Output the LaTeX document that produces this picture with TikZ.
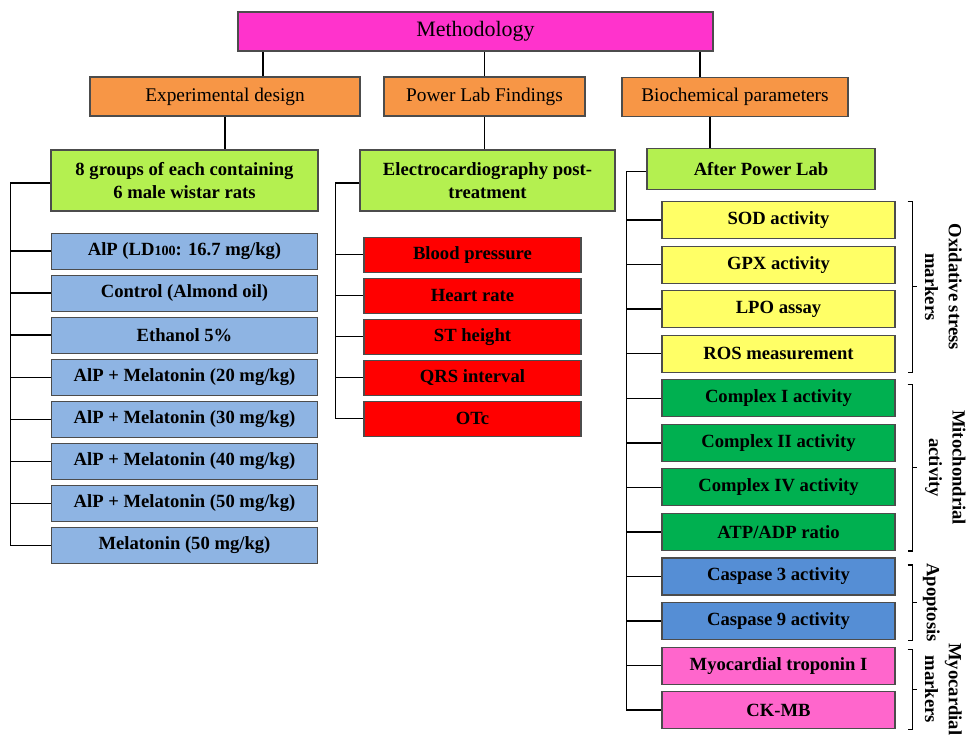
\documentclass[tikz,border=0pt]{standalone}
\usepackage{fontspec}
\setmainfont{Liberation Serif}
\usepackage{tikz}
\usetikzlibrary{positioning,calc}
\definecolor{methpink}{RGB}{255,51,204}
\definecolor{headorange}{RGB}{247,150,70}
\definecolor{limegreen}{RGB}{180,240,80}
\definecolor{groupblue}{RGB}{142,180,227}
\definecolor{ecgred}{RGB}{255,0,0}
\definecolor{oxyellow}{RGB}{255,255,102}
\definecolor{mitogreen}{RGB}{0,176,80}
\definecolor{apoblue}{RGB}{85,142,213}
\definecolor{cardpink}{RGB}{255,102,204}

\begin{document}
\begin{tikzpicture}[
  box/.style={rectangle, draw=black!70, line width=0.6pt, align=center, inner sep=1pt, font=\bfseries\fontsize{10.6}{12.7}\selectfont},
  head/.style={box, fill=headorange, font=\fontsize{11}{13}\selectfont, minimum height=0.78cm},
  sub/.style={box, fill=limegreen},
  group/.style={box, fill=groupblue, minimum width=5.32cm, minimum height=0.72cm},
  ecg/.style={box, fill=ecgred, minimum width=4.34cm, minimum height=0.7cm},
  bio/.style={box, minimum width=4.66cm, minimum height=0.74cm},
  side/.style={font=\bfseries\fontsize{10.6}{13.5}\selectfont, rotate=-90, anchor=south, align=center, inner sep=1pt},
  brace/.style={line width=0.6pt},
  line width=0.8pt
]
\useasboundingbox (0,0) rectangle (19.36,-14.88);

% top levels
\node[head, fill=methpink, minimum width=9.5cm, font=\fontsize{12.5}{15}\selectfont] (meth) at (9.51,-0.63) {Methodology};
\node[head, minimum width=5.4cm] (expdes) at (4.5,-1.93) {Experimental design};
\node[head, minimum width=4.02cm] (plab) at (9.69,-1.93) {Power Lab Findings};
\node[head, minimum width=4.52cm] (biochem) at (14.7,-1.94) {Biochemical parameters};

\node[sub, minimum width=5.34cm, minimum height=1.22cm] (groups) at (3.69,-3.61) {8 groups of each containing\\6 male wistar rats};
\node[sub, minimum width=5.1cm, minimum height=1.22cm] (ecgpost) at (9.75,-3.61) {Electrocardiography post-\\treatment};
\node[sub, minimum width=4.56cm, minimum height=0.82cm] (after) at (15.22,-3.38) {After Power Lab};

\draw ([xshift=0.76cm]expdes.north) -- ([xshift=0.76cm]expdes.north |- meth.south);
\draw (plab.north) -- (plab.north |- meth.south);
\draw ([xshift=-0.7cm]biochem.north) -- ([xshift=-0.7cm]biochem.north |- meth.south);
\draw (expdes.south) -- (expdes.south |- groups.north);
\draw (plab.south) -- (plab.south |- ecgpost.north);
\draw ([xshift=-0.5cm]biochem.south) -- ([xshift=-0.5cm]biochem.south |- after.north);

% experimental groups
\node[group, below=0.42cm of groups] (g1) {AlP (LD{\fontsize{8}{8}\selectfont 100}: 16.7 mg/kg)};
\node[group, below=0.1cm of g1] (g2) {Control (Almond oil)};
\node[group, below=0.1cm of g2] (g3) {Ethanol 5\%};
\node[group, below=0.1cm of g3] (g4) {AlP + Melatonin (20 mg/kg)};
\node[group, below=0.1cm of g4] (g5) {AlP + Melatonin (30 mg/kg)};
\node[group, below=0.1cm of g5] (g6) {AlP + Melatonin (40 mg/kg)};
\node[group, below=0.1cm of g6] (g7) {AlP + Melatonin (50 mg/kg)};
\node[group, below=0.1cm of g7] (g8) {Melatonin (50 mg/kg)};

\coordinate (gtrunk) at ([xshift=-0.8cm,yshift=-0.05cm]groups.west);
\draw ([yshift=-0.05cm]groups.west) -- (gtrunk) |- (g8.west);
\draw (gtrunk) |- (g1.west);
\draw (gtrunk) |- (g2.west);
\draw (gtrunk) |- (g3.west);
\draw (gtrunk) |- (g4.west);
\draw (gtrunk) |- (g5.west);
\draw (gtrunk) |- (g6.west);
\draw (gtrunk) |- (g7.west);

% ecg findings
\node[ecg, below=0.5cm of ecgpost, xshift=-0.3cm] (bp) {Blood pressure};
\node[ecg, below=0.1cm of bp] (hr) {Heart rate};
\node[ecg, below=0.1cm of hr] (st) {ST height};
\node[ecg, below=0.1cm of st] (qrs) {QRS interval};
\node[ecg, below=0.1cm of qrs] (otc) {OTc};

\coordinate (etrunk) at ([xshift=-0.48cm,yshift=-0.05cm]ecgpost.west);
\draw ([yshift=-0.05cm]ecgpost.west) -- (etrunk) |- (otc.west);
\draw (etrunk) |- (bp.west);
\draw (etrunk) |- (hr.west);
\draw (etrunk) |- (st.west);
\draw (etrunk) |- (qrs.west);

% biochemical parameters
\node[bio, fill=oxyellow, below=0.22cm of after, xshift=0.35cm] (sod) {SOD activity};
\node[bio, fill=oxyellow, below=0.13cm of sod] (gpx) {GPX activity};
\node[bio, fill=oxyellow, below=0.13cm of gpx] (lpo) {LPO assay};
\node[bio, fill=oxyellow, below=0.13cm of lpo] (ros) {ROS measurement};
\node[bio, fill=mitogreen, below=0.13cm of ros] (cx1) {Complex I activity};
\node[bio, fill=mitogreen, below=0.13cm of cx1] (cx2) {Complex II activity};
\node[bio, fill=mitogreen, below=0.13cm of cx2] (cx4) {Complex IV activity};
\node[bio, fill=mitogreen, below=0.13cm of cx4] (atp) {ATP/ADP ratio};
\node[bio, fill=apoblue, below=0.13cm of atp] (cas3) {Caspase 3 activity};
\node[bio, fill=apoblue, below=0.13cm of cas3] (cas9) {Caspase 9 activity};
\node[bio, fill=cardpink, below=0.13cm of cas9] (trop) {Myocardial troponin I};
\node[bio, fill=cardpink, below=0.13cm of trop] (ckmb) {CK-MB};

\coordinate (btrunk) at ([xshift=-0.4cm,yshift=-0.05cm]after.west);
\draw ([yshift=-0.05cm]after.west) -- (btrunk) |- (ckmb.west);
\draw (btrunk) |- (sod.west);
\draw (btrunk) |- (gpx.west);
\draw (btrunk) |- (lpo.west);
\draw (btrunk) |- (ros.west);
\draw (btrunk) |- (cx1.west);
\draw (btrunk) |- (cx2.west);
\draw (btrunk) |- (cx4.west);
\draw (btrunk) |- (atp.west);
\draw (btrunk) |- (cas3.west);
\draw (btrunk) |- (cas9.west);
\draw (btrunk) |- (trop.west);

% brackets
\draw[brace] ([xshift=0.24cm]sod.north east) -| ([xshift=0.34cm]ros.south east) -- ([xshift=0.24cm]ros.south east);
\draw[brace] ($([xshift=0.34cm]sod.north east)!0.5!([xshift=0.34cm]ros.south east)$) -- ++(0.08,0) coordinate (oxtick);
\node[side] (oxlab) at ([xshift=0.12cm]oxtick) {Oxidative stress\\markers};

\draw[brace] ([xshift=0.24cm,yshift=-0.1cm]cx1.north east) -| ([xshift=0.34cm]atp.south east) -- ([xshift=0.24cm]atp.south east);
\draw[brace] ($([xshift=0.34cm,yshift=-0.1cm]cx1.north east)!0.5!([xshift=0.34cm]atp.south east)$) -- ++(0.08,0) coordinate (mitotick);
\node[side] (mitolab) at ([xshift=0.12cm]mitotick) {Mitochondrial\\activity};

\draw[brace] ([xshift=0.24cm,yshift=-0.15cm]cas3.north east) -| ([xshift=0.34cm]cas9.south east) -- ([xshift=0.24cm]cas9.south east);
\draw[brace] ($([xshift=0.34cm,yshift=-0.15cm]cas3.north east)!0.5!([xshift=0.34cm]cas9.south east)$) -- ++(0.08,0) coordinate (apotick);
\node[side] (apolab) at ([xshift=0.08cm]apotick) {Apoptosis};

\draw[brace] ([xshift=0.24cm,yshift=-0.06cm]trop.north east) -| ([xshift=0.34cm]ckmb.south east) -- ([xshift=0.24cm]ckmb.south east);
\draw[brace] ($([xshift=0.34cm,yshift=-0.06cm]trop.north east)!0.5!([xshift=0.34cm]ckmb.south east)$) -- ++(0.08,0) coordinate (cardtick);
\node[side] (cardlab) at ([xshift=0.12cm]cardtick) {Myocardial\\markers};
\end{tikzpicture}
\end{document}
